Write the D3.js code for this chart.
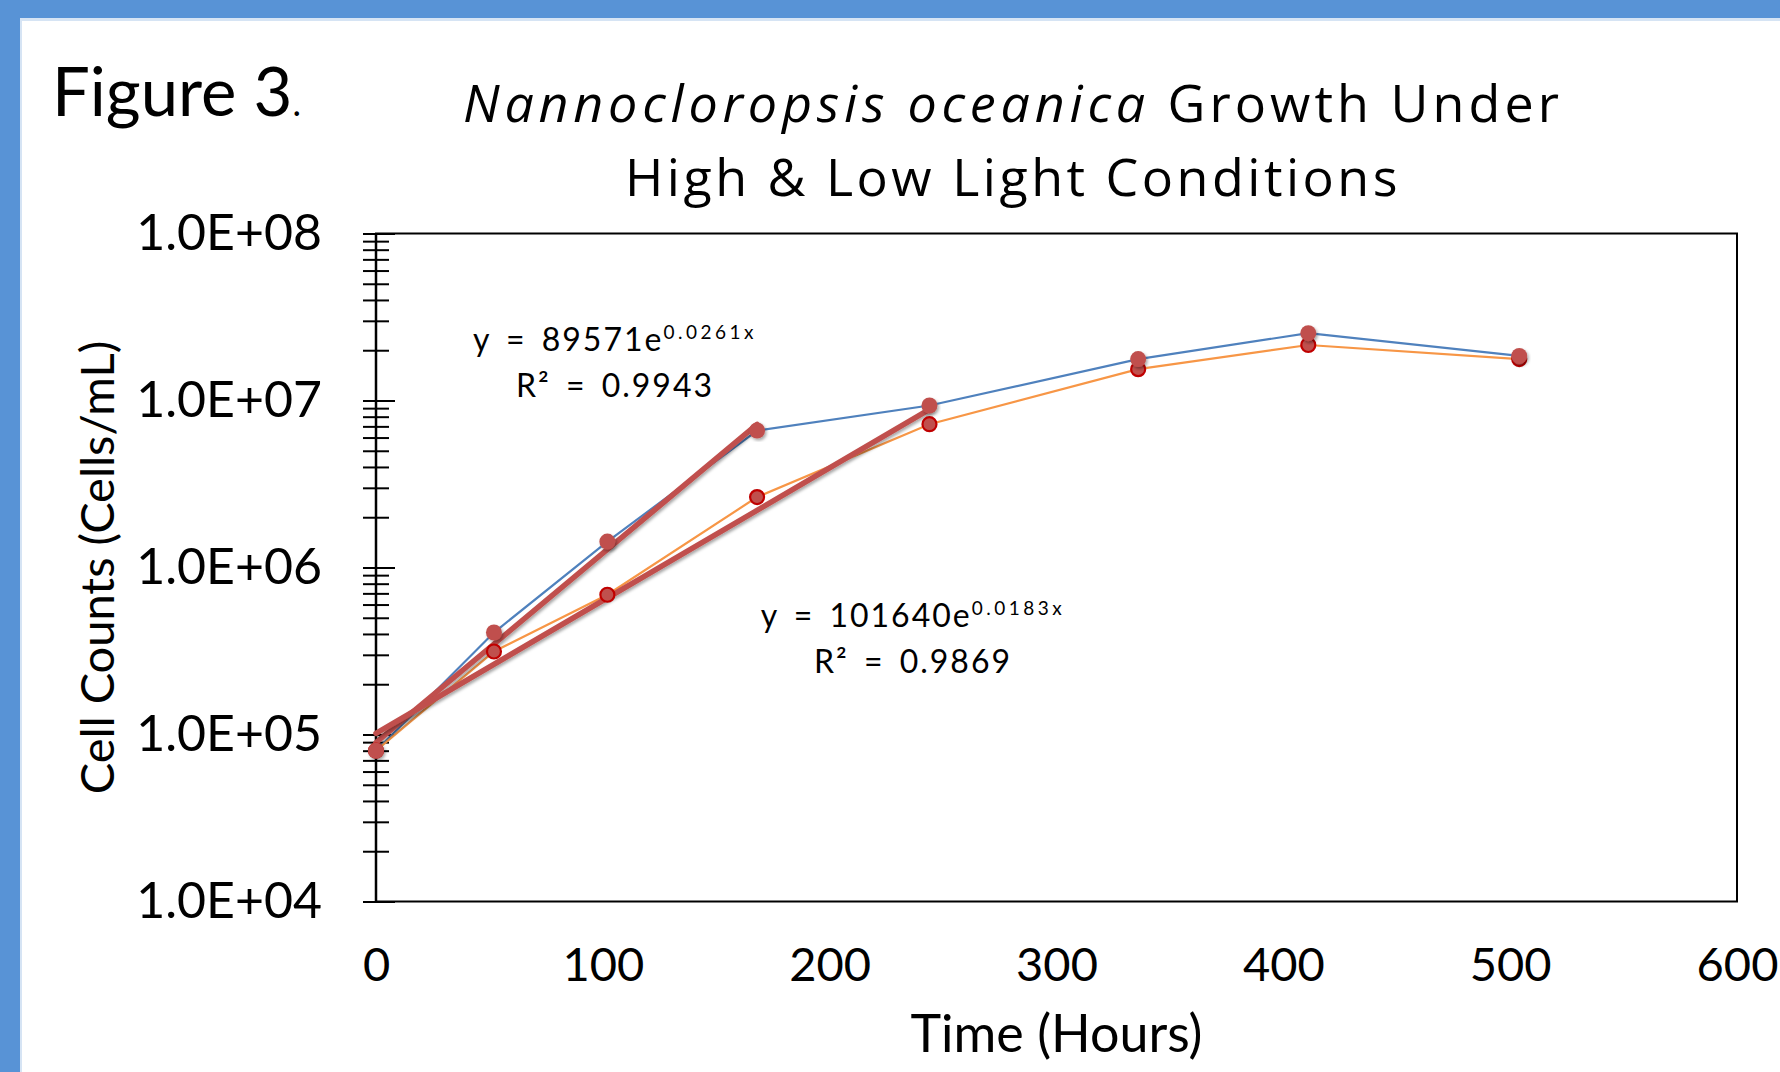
<!DOCTYPE html>
<html>
<head>
<meta charset="utf-8">
<script src="https://cdn.jsdelivr.net/npm/d3@7"></script>
<style>
  html, body { margin: 0; padding: 0; background: #fff; }
  svg { display: block; }
  text { font-family: Lato, "Open Sans", sans-serif; fill: #000; }
</style>
</head>
<body>
<svg id="chart" width="1780" height="1072"></svg>
<script>
// sampling times (hours)
const hours = [0, 52, 102, 168, 244, 336, 411, 504];
// cell counts (cells/mL)
const highLight = [8.0e4, 4.08e5, 1.43e6, 6.61e6, 9.33e6, 1.77e7, 2.53e7, 1.85e7];
const lowLight  = [8.0e4, 3.14e5, 6.87e5, 2.64e6, 7.21e6, 1.54e7, 2.15e7, 1.77e7];

// exponential trendlines y = a * e^(b x), as printed on the chart
const fitA   = [89571, 101640];
const fitB   = ["0.0261", "0.0183"];
const fitR2  = ["0.9943", "0.9869"];
const fitEnd = [168, 244];

const xTicks = [0, 100, 200, 300, 400, 500, 600];
const yTicks = [1e4, 1e5, 1e6, 1e7, 1e8];

const width = 1780, height = 1072;
const plot = { left: 376, right: 1737, top: 233.5, bottom: 901.5 };

const svg = d3.select("#chart");

// filter for the soft shadow Excel puts under trendlines / markers
const defs = svg.append("defs");
defs.append("filter")
    .attr("id", "shadow")
    .attr("x", "-20%").attr("y", "-20%")
    .attr("width", "140%").attr("height", "140%")
  .append("feDropShadow")
    .attr("dx", 1.5).attr("dy", 2)
    .attr("stdDeviation", 1.5)
    .attr("flood-color", "#000")
    .attr("flood-opacity", 0.35);

// blue slide frame (top + left only)
svg.append("rect").attr("width", width).attr("height", height).attr("fill", "#fff");
svg.append("rect").attr("x", 0).attr("y", 0).attr("width", width).attr("height", 18).attr("fill", "#5893d6");
svg.append("rect").attr("x", 0).attr("y", 0).attr("width", 20).attr("height", height).attr("fill", "#5893d6");
svg.append("rect").attr("x", 20).attr("y", 18).attr("width", width).attr("height", 3).attr("fill", "#d6e4f4");
svg.append("rect").attr("x", 20).attr("y", 18).attr("width", 2).attr("height", height).attr("fill", "#d6e4f4");

// "Figure 3."
const fig = svg.append("text")
    .attr("x", 52)
    .attr("y", 116)
    .style("font-size", "67px");
fig.append("tspan").text("Figure 3");
fig.append("tspan").style("font-size", "36px").text(".");

// stretch a text line to the width it has in the original
function fitWidth(sel, target) {
  const n = sel.text().length;
  const w = sel.node().getComputedTextLength();
  sel.style("letter-spacing", ((target - w) / n) + "px");
}

// title
const title = svg.append("text")
    .attr("x", 1013)
    .attr("y", 122)
    .attr("text-anchor", "middle")
    .style("font-family", "'Open Sans', sans-serif")
    .style("font-size", "52px");
const tItal = title.append("tspan")
    .style("font-style", "italic")
    .text("Nannocloropsis oceanica");
const tRest = title.append("tspan")
    .text(" Growth Under");
fitWidth(tItal, 687);
fitWidth(tRest, 413);

const title2 = svg.append("text")
    .attr("x", 1013)
    .attr("y", 196)
    .attr("text-anchor", "middle")
    .style("font-family", "'Open Sans', sans-serif")
    .style("font-size", "52px")
    .text("High & Low Light Conditions");
fitWidth(title2, 776);

// scales
const x = d3.scaleLinear().domain([0, 600]).range([plot.left, plot.right]);
const y = d3.scaleLog().domain([1e4, 1e8]).range([plot.bottom, plot.top]);

// frame of the plot area
svg.append("rect")
    .attr("x", plot.left)
    .attr("y", plot.top)
    .attr("width", plot.right - plot.left)
    .attr("height", plot.bottom - plot.top)
    .attr("fill", "none")
    .attr("stroke", "#000")
    .attr("stroke-width", 2);

// minor ticks 2..9 in every decade
let minorTicks = [];
yTicks.slice(0, -1).forEach(d => {
  for (let m = 2; m <= 9; m++) minorTicks.push(d * m);
});

const yMinor = svg.append("g")
    .attr("transform", `translate(${plot.left},0)`)
    .call(d3.axisLeft(y).tickValues(minorTicks).tickFormat("").tickSize(13));
yMinor.select(".domain").remove();
yMinor.selectAll(".tick line").attr("x1", 13).attr("stroke", "#000").attr("stroke-width", 2);

const yAxis = svg.append("g")
    .attr("transform", `translate(${plot.left},0)`)
    .call(d3.axisLeft(y)
      .tickValues(yTicks)
      .tickSize(13)
      .tickPadding(41)
      .tickFormat(d => "1.0E+" + String(Math.round(Math.log10(d))).padStart(2, "0")));
yAxis.select(".domain").remove();
yAxis.selectAll(".tick line").attr("x1", 19).attr("stroke", "#000").attr("stroke-width", 2);
yAxis.selectAll(".tick text")
    .style("font-family", "Lato, sans-serif")
    .style("font-size", "50px")
    .attr("fill", "#000");

// axis line on top of the ticks
svg.append("line")
    .attr("x1", plot.left).attr("x2", plot.left)
    .attr("y1", plot.top).attr("y2", plot.bottom)
    .attr("stroke", "#000").attr("stroke-width", 2.5);

const xAxis = svg.append("g")
    .attr("transform", `translate(0,${plot.bottom})`)
    .call(d3.axisBottom(x).tickValues(xTicks).tickSize(0).tickPadding(46));
xAxis.select(".domain").remove();
xAxis.selectAll(".tick text")
    .style("font-family", "Lato, sans-serif")
    .style("font-size", "47px")
    .attr("fill", "#000");

// axis titles
svg.append("text")
    .attr("x", (plot.left + plot.right) / 2)
    .attr("y", 1052)
    .attr("text-anchor", "middle")
    .style("font-size", "52px")
    .text("Time (Hours)");

svg.append("text")
    .attr("transform", `translate(114,${(plot.top + plot.bottom) / 2}) rotate(-90)`)
    .attr("text-anchor", "middle")
    .style("font-size", "47px")
    .text("Cell Counts (Cells/mL)");

// series lines
const line = d3.line()
    .x(d => x(d[0]))
    .y(d => y(d[1]));

const highPts = hours.map((h, i) => [h, highLight[i]]);
const lowPts  = hours.map((h, i) => [h, lowLight[i]]);

svg.append("path")
    .attr("d", line(highPts))
    .attr("fill", "none")
    .attr("stroke", "#4f81bd")
    .attr("stroke-width", 2.2);

svg.append("path")
    .attr("d", line(lowPts))
    .attr("fill", "none")
    .attr("stroke", "#f79646")
    .attr("stroke-width", 2.2);

// trendlines (straight on a log axis, so the two end points are enough)
const trendPts = fitA.map((a, i) => [0, fitEnd[i]].map(t => [t, a * Math.exp(+fitB[i] * t)]));

svg.append("g")
    .selectAll("path")
    .data(trendPts)
    .enter()
    .append("path")
    .attr("d", d => line(d))
    .attr("fill", "none")
    .attr("stroke", "#c0504d")
    .attr("stroke-width", 5.5)
    .attr("stroke-linecap", "round")
    .attr("filter", "url(#shadow)");

// markers
svg.append("g")
    .selectAll("circle")
    .data(lowPts)
    .enter()
    .append("circle")
    .attr("cx", d => x(d[0]))
    .attr("cy", d => y(d[1]))
    .attr("r", 7)
    .attr("fill", "#c0504d")
    .attr("stroke", "#c00000")
    .attr("stroke-width", 2.2);

svg.append("g")
    .selectAll("circle")
    .data(highPts)
    .enter()
    .append("circle")
    .attr("cx", d => x(d[0]))
    .attr("cy", d => y(d[1]))
    .attr("r", 8)
    .attr("fill", "#c0504d")
    .attr("filter", "url(#shadow)");

// trendline labels
const labelPos = [[615, 350.7], [913, 626.7]];
fitA.forEach((a, i) => {
  const [lx, ly] = labelPos[i];
  const eq = svg.append("text")
      .attr("x", lx)
      .attr("y", ly)
      .attr("text-anchor", "middle")
      .style("font-size", "32px");
  eq.append("tspan")
      .style("letter-spacing", "2px")
      .style("word-spacing", "5px")
      .text("y = " + a + "e");
  eq.append("tspan")
      .attr("dy", -12)
      .style("font-size", "19px")
      .style("letter-spacing", "3.5px")
      .text(fitB[i] + "x");
  svg.append("text")
      .attr("x", lx)
      .attr("y", ly + 46)
      .attr("text-anchor", "middle")
      .style("font-size", "32px")
      .style("letter-spacing", "2px")
      .style("word-spacing", "5px")
      .text("R\u00b2 = " + fitR2[i]);
});
</script>
</body>
</html>
